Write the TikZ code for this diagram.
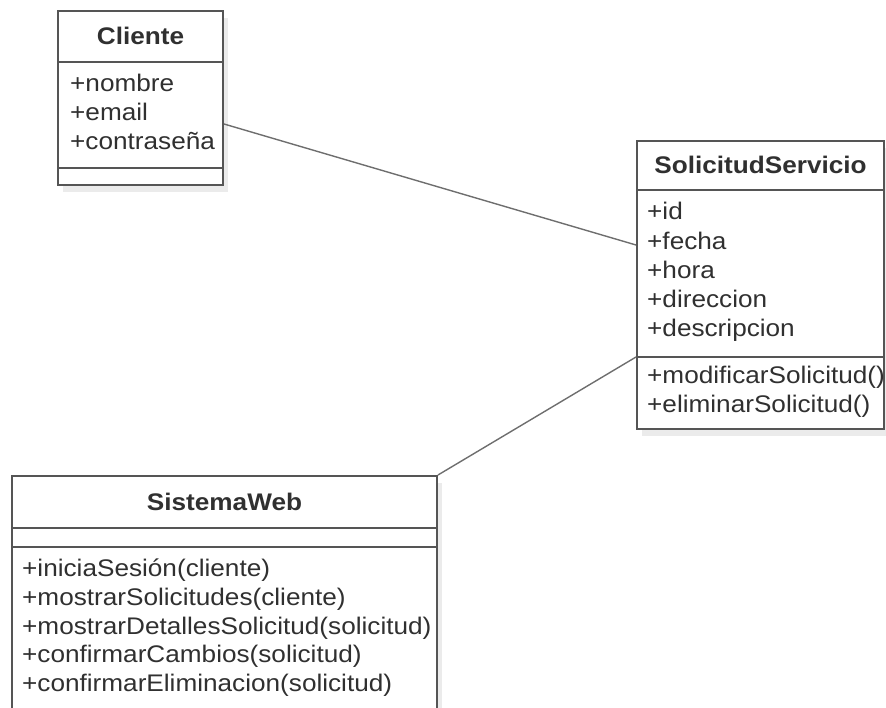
\documentclass[tikz,border=0pt]{standalone}
\usepackage{fontspec}
\setmainfont{Liberation Sans}[FakeStretch=1.09]
\usetikzlibrary{shadows}
\definecolor{edge}{HTML}{555555}
\definecolor{ink}{HTML}{303030}
\definecolor{wire}{HTML}{6E6E6E}
\tikzset{
  classbox/.style={draw=edge, line width=2pt, fill=white, inner sep=0pt,
    drop shadow={shadow xshift=5pt, shadow yshift=-7pt, opacity=0.08, fill=black}},
  classname/.style={anchor=base, font=\fontsize{24}{28.4}\selectfont\bfseries, text=ink, inner sep=0pt},
  member/.style={anchor=base west, font=\fontsize{24}{28.4}\selectfont, text=ink, inner sep=0pt},
  divider/.style={draw=edge, line width=2pt},
  assoc/.style={draw=wire, line width=1.4pt},
}
\begin{document}
\begin{tikzpicture}[x=1pt,y=-1pt]
\useasboundingbox (0,0) rectangle (886,708);

% Cliente
\node[classbox, minimum width=165pt, minimum height=174pt] (cliente) at (140.5,98) {};
\draw[divider] (cliente.west |- 0,62) -- (cliente.east |- 0,62);
\draw[divider] (cliente.west |- 0,168) -- (cliente.east |- 0,168);
\node[classname] (cliente-name) at (140.5,45) {Cliente};
\foreach \t [count=\i] in {{+nombre},{+email},{+contraseña}}
  \node[member] (cliente-a\i) at (70,{91.5+29*(\i-1)}) {\t};

% SolicitudServicio
\node[classbox, minimum width=247pt, minimum height=288pt] (solicitud) at (760.5,285) {};
\draw[divider] (solicitud.west |- 0,190) -- (solicitud.east |- 0,190);
\draw[divider] (solicitud.west |- 0,357) -- (solicitud.east |- 0,357);
\node[classname] (solicitud-name) at (760.5,174) {SolicitudServicio};
\foreach \t [count=\i] in {{+id},{+fecha},{+hora},{+direccion},{+descripcion}}
  \node[member] (solicitud-a\i) at (647,{220+29.2*(\i-1)}) {\t};
\foreach \t [count=\i] in {{+modificarSolicitud()},{+eliminarSolicitud()}}
  \node[member] (solicitud-m\i) at (647,{383.5+28.8*(\i-1)}) {\t};

% SistemaWeb
\node[classbox, minimum width=425pt, minimum height=264pt] (web) at (224.5,608) {};
\draw[divider] (web.west |- 0,528) -- (web.east |- 0,528);
\draw[divider] (web.west |- 0,547) -- (web.east |- 0,547);
\node[classname] (web-name) at (224.5,510.6) {SistemaWeb};
\foreach \t [count=\i] in {{+iniciaSesión(cliente)},{+mostrarSolicitudes(cliente)},{+mostrarDetallesSolicitud(solicitud)},{+confirmarCambios(solicitud)},{+confirmarEliminacion(solicitud)}}
  \node[member] (web-m\i) at (22,{576.5+28.8*(\i-1)}) {\t};

% associations
\draw[assoc] ([yshift=-26pt]cliente.east) -- ([yshift=40pt]solicitud.west);
\draw[assoc] (web.north east) -- ([yshift=-72pt]solicitud.west);
\end{tikzpicture}
\end{document}
